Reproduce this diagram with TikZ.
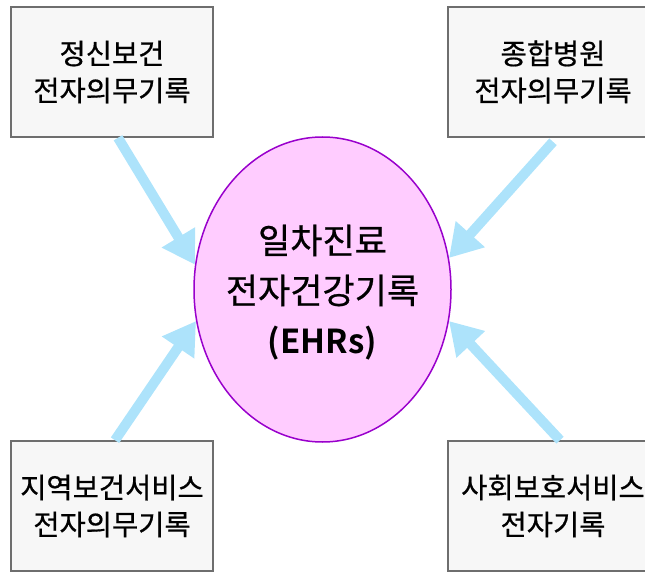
\documentclass[tikz,border=0pt]{standalone}
\usepackage{fontspec}
\setmainfont{Noto Sans CJK KR}[FakeBold=0.6]
\newfontfamily\heavy{Noto Sans CJK KR Bold}
\usetikzlibrary{arrows.meta,shapes.geometric}
\definecolor{boxfill}{HTML}{F7F7F7}
\definecolor{boxline}{HTML}{6E6E6E}
\definecolor{ellfill}{HTML}{FFCCFF}
\definecolor{ellline}{HTML}{9900CC}
\definecolor{arrowblue}{HTML}{ADE3FB}
\tikzset{
  srcbox/.style={draw=boxline, fill=boxfill, line width=1.6pt, minimum width=202pt, minimum height=130pt, inner sep=0pt, align=center, font=\fontsize{28.5}{37}\selectfont},
  hub/.style={ellipse, draw=ellline, fill=ellfill, line width=1.5pt, minimum width=257pt, minimum height=305pt, inner sep=0pt},
  hubtext/.style={align=center, inner sep=0pt, font=\fontsize{35}{50}\selectfont},
  feed/.style={draw=arrowblue, line width=10pt, -{Triangle[length=32pt,width=37pt]}}
}
\begin{document}
\begin{tikzpicture}[x=1pt,y=-1pt]
\useasboundingbox (0,0) rectangle (645,572);
\clip (0,0) rectangle (645,572);
\node[srcbox] (tl) at (112,72) {정신보건\\전자의무기록};
\node[srcbox, minimum width=210pt] (tr) at (553,72) {종합병원\\전자의무기록};
\node[srcbox] (bl) at (112,506) {지역보건서비스\\전자의무기록};
\node[srcbox, minimum width=210pt] (br) at (553,506) {사회보호서비스\\전자기록};
\node[hub] (e) at (322.5,289.5) {};
\node[hubtext] (et) at ([yshift=-3pt]e.center) {일차진료\\전자건강기록\\{\heavy\fontsize{33}{50}\selectfont (EHRs)}};
\coordinate (s1) at ([xshift=6pt]tl.south);
\coordinate (s2) at ([yshift=-4pt]tr.south);
\coordinate (s3) at ([xshift=3pt]bl.north);
\coordinate (s4) at ([xshift=7pt]br.north);
\draw[feed] (s1) -- (e.169.8);
\draw[feed] (s2) -- (e.14.3);
\draw[feed] (s3) -- (e.194.5);
\draw[feed] (s4) -- (e.346.5);
\end{tikzpicture}
\end{document}
